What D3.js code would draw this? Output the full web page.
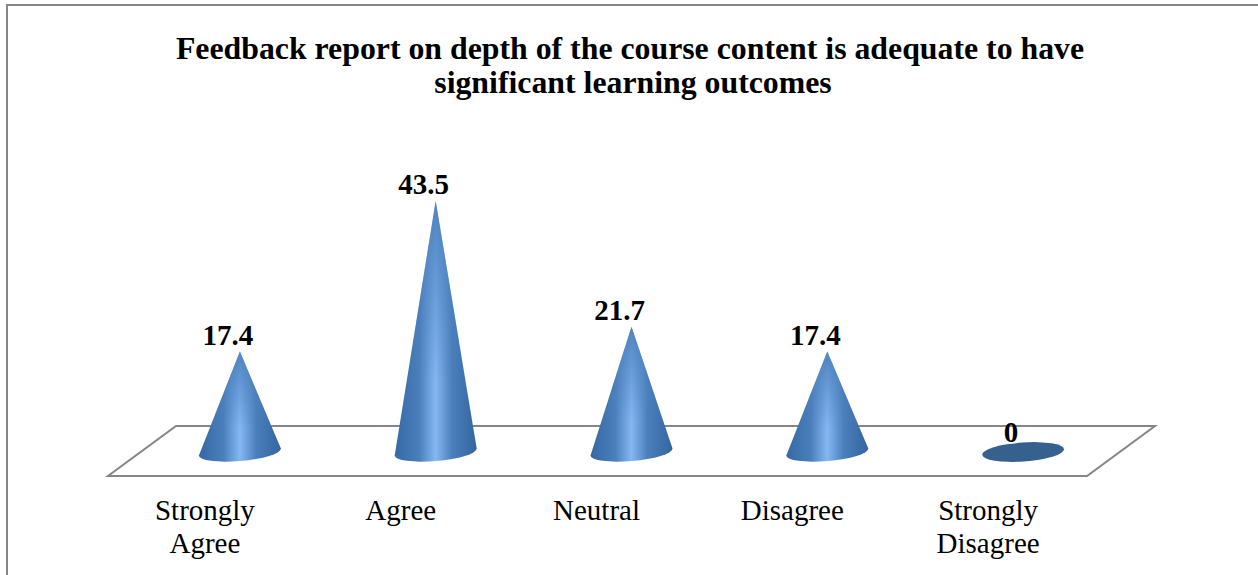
<!DOCTYPE html>
<html>
<head>
<meta charset="utf-8">
<script src="https://cdnjs.cloudflare.com/ajax/libs/d3/7.8.5/d3.min.js"></script>
<style>
html, body { margin: 0; padding: 0; background: #fff; }
svg { display: block; }
text { font-family: "Liberation Serif", serif; fill: #000; }
</style>
</head>
<body>
<div id="chart"></div>
<script>
const categories = ["Strongly Agree", "Agree", "Neutral", "Disagree", "Strongly Disagree"];
const values = [17.4, 43.5, 21.7, 17.4, 0];
const valueLabels = ["17.4", "43.5", "21.7", "17.4", "0"];
const titleLines = ["Feedback report on depth of the course content is adequate to have", "significant learning outcomes"];

const width = 1258, height = 575;

const svg = d3.select("#chart").append("svg")
  .attr("width", width)
  .attr("height", height);

const defs = svg.append("defs");

// Cone shading
const grad = defs.append("linearGradient")
  .attr("id", "cone")
  .attr("x1", "0%").attr("x2", "100%")
  .attr("y1", "0%").attr("y2", "0%");
grad.append("stop").attr("offset", "0%").attr("stop-color", "#3569a6");
grad.append("stop").attr("offset", "30%").attr("stop-color", "#4a7fbc");
grad.append("stop").attr("offset", "50%").attr("stop-color", "#85b7f2");
grad.append("stop").attr("offset", "70%").attr("stop-color", "#4a7fbc");
grad.append("stop").attr("offset", "100%").attr("stop-color", "#34659f");

// Tips are darker, the highlight fades out going up
const tipGrad = defs.append("linearGradient")
  .attr("id", "coneTip")
  .attr("x1", "0%").attr("x2", "0%")
  .attr("y1", "0%").attr("y2", "100%");
tipGrad.append("stop").attr("offset", "0%").attr("stop-color", "#4a7fbc").attr("stop-opacity", 0.9);
tipGrad.append("stop").attr("offset", "70%").attr("stop-color", "#4a7fbc").attr("stop-opacity", 0);

// Frame, only top and left show in the picture
svg.append("path")
  .attr("d", "M7,575V5H1258")
  .attr("fill", "none")
  .attr("stroke", "#868686")
  .attr("stroke-width", 2);

svg.append("g").selectAll("text")
  .data(titleLines).enter()
  .append("text")
  .attr("x", (d, i) => i === 0 ? 630 : 633)
  .attr("y", (d, i) => 59 + i * 34)
  .attr("text-anchor", "middle")
  .attr("font-size", 31.8)
  .attr("font-weight", "bold")
  .text(d => d);

// Scales
const floorLeft = 108, floorRight = 1087, floorFront = 476, floorBack = 426, depth = 68;
const x = d3.scaleBand().domain(categories).range([floorLeft, floorRight]);
const y = d3.scaleLinear().domain([0, 43.5]).range([452, 201]);
const rx = 41, tilt = 3.5;

// Floor
svg.append("path")
  .attr("d", `M${floorLeft},${floorFront}H${floorRight}L${floorRight + depth},${floorBack}H${floorLeft + depth}Z`)
  .attr("fill", "#fff")
  .attr("stroke", "#868686")
  .attr("stroke-width", 2);

// X axis labels
const axis = svg.append("g")
  .attr("transform", "translate(0," + floorFront + ")")
  .call(d3.axisBottom(x).tickSize(0).tickPadding(0));
axis.select(".domain").remove();
axis.selectAll("text")
  .attr("font-size", 29)
  .attr("font-family", "Liberation Serif")
  .attr("fill", "#000")
  .each(function (d) {
    const words = d.split(" ");
    const t = d3.select(this).text(null).attr("y", 0).attr("dy", null);
    words.forEach((w, i) => {
      t.append("tspan").attr("x", -1).attr("y", 44 + i * 33).text(w);
    });
  });

const cx = d => x(d) + x.bandwidth() / 2 + depth / 2;

// Cones
const cones = svg.append("g");
categories.forEach((c, i) => {
  const v = values[i];
  const bx = cx(c), by = y(0);
  if (v > 0) {
    const shape = `M${bx - rx},${by + tilt}L${bx},${y(v)}L${bx + rx},${by - tilt}A${rx},9 -5 0 1 ${bx - rx},${by + tilt}Z`;
    cones.append("path").attr("d", shape).attr("fill", "url(#cone)");
    cones.append("path").attr("d", shape).attr("fill", "url(#coneTip)");
  } else {
    cones.append("ellipse")
      .attr("cx", bx).attr("cy", by)
      .attr("rx", rx).attr("ry", 9.5)
      .attr("transform", `rotate(-4 ${bx} ${by})`)
      .attr("fill", "#36618f");
  }
});

// Value labels
svg.append("g").selectAll("text")
  .data(categories).enter()
  .append("text")
  .attr("x", d => cx(d) - 12)
  .attr("y", (d, i) => y(values[i]) - (values[i] > 0 ? 7 : 10))
  .attr("text-anchor", "middle")
  .attr("font-size", 29)
  .attr("font-weight", "bold")
  .text((d, i) => valueLabels[i]);
</script>
</body>
</html>
